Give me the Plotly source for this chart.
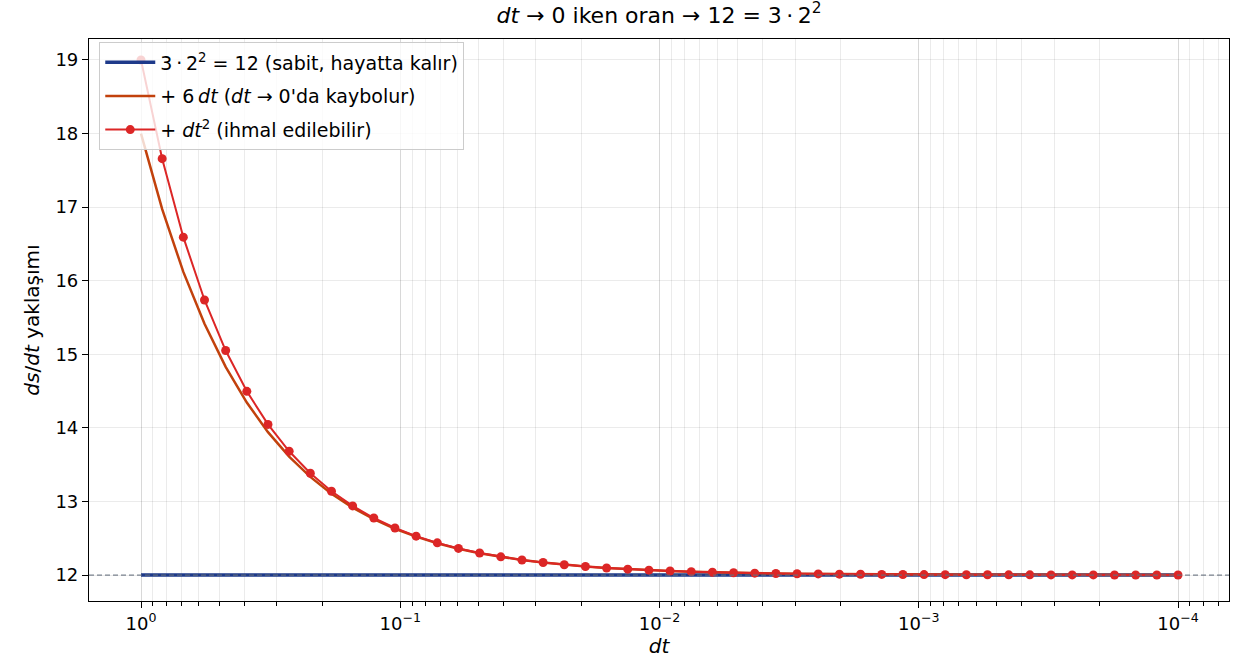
import plotly.graph_objects as go

# step sizes dt (log-spaced from 1 down to 1e-4)
dt = [1.0, 0.82864, 0.68665, 0.56899, 0.47149, 0.39069, 0.32374, 0.26826, 0.22229, 0.18420,
      0.15264, 0.12648, 0.10481, 0.086848, 0.071966, 0.059634, 0.049415, 0.040947, 0.033931, 0.028117,
      0.023299, 0.019306, 0.015998, 0.013257, 0.010985, 0.0091028, 0.0075430, 0.0062504, 0.0051794, 0.0042919,
      0.0035565, 0.0029471, 0.0024421, 0.0020236, 0.0016768, 0.0013895, 0.0011514, 0.00095410, 0.00079061, 0.00065514,
      0.00054288, 0.00044986, 0.00037278, 0.00030890, 0.00025597, 0.00021211, 0.00017576, 0.00014564, 0.00012069, 0.0001]

# constant part 3*2^2
const_part = [12.0] * len(dt)

# 12 + 6 dt
with_linear = [18.0, 16.9718, 16.1199, 15.4139, 14.8289, 14.3441, 13.9424, 13.6096, 13.3337, 13.1052,
               12.9158, 12.7589, 12.6289, 12.5211, 12.4318, 12.3578, 12.2965, 12.2457, 12.2036, 12.1687,
               12.1398, 12.1158, 12.0960, 12.0795, 12.0659, 12.0546, 12.0453, 12.0375, 12.0311, 12.0258,
               12.0213, 12.0177, 12.0147, 12.0121, 12.0101, 12.0083, 12.0069, 12.0057, 12.0047, 12.0039,
               12.0033, 12.0027, 12.0022, 12.0019, 12.0015, 12.0013, 12.0011, 12.0009, 12.0007, 12.0006]

# 12 + 6 dt + dt^2
with_square = [19.0, 17.6585, 16.5914, 15.7377, 15.0512, 14.4968, 14.0473, 13.6815, 13.3832, 13.1391,
               12.9391, 12.7749, 12.6398, 12.5286, 12.4370, 12.3614, 12.2989, 12.2474, 12.2047, 12.1695,
               12.1403, 12.1162, 12.0962, 12.0797, 12.0660, 12.0547, 12.0453, 12.0375, 12.0311, 12.0258,
               12.0213, 12.0177, 12.0147, 12.0121, 12.0101, 12.0083, 12.0069, 12.0057, 12.0047, 12.0039,
               12.0033, 12.0027, 12.0022, 12.0019, 12.0015, 12.0013, 12.0011, 12.0009, 12.0007, 12.0006]

x_tickvals = [1, 0.1, 0.01, 0.001, 0.0001]
x_ticktext = ["10<sup>0</sup>", "10<sup>\u22121</sup>", "10<sup>\u22122</sup>", "10<sup>\u22123</sup>", "10<sup>\u22124</sup>"]
y_tickvals = [12, 13, 14, 15, 16, 17, 18, 19]

FONT = "DejaVu Sans, Liberation Sans, sans-serif"
NAVY = "#1e3a8a"
ORANGE = "#c2410c"
RED = "#dc2626"
GRID = "rgba(0,0,0,0.08)"

fig = go.Figure()
fig.add_trace(go.Scatter(x=dt, y=const_part, mode="lines", legendgroup="a",
                         line=dict(color=NAVY, width=3.5),
                         name="3\u2009\u00b7\u20092<sup>2</sup> = 12 (sabit, hayatta kalır)"))
fig.add_trace(go.Scatter(x=dt, y=with_linear, mode="lines", legendgroup="b",
                         line=dict(color=ORANGE, width=2.5),
                         name="+ 6\u2009<i>dt</i> (<i>dt</i> \u2192 0'da kaybolur)"))
fig.add_trace(go.Scatter(x=dt, y=with_square, mode="lines+markers", legendgroup="c",
                         line=dict(color=RED, width=2),
                         marker=dict(color=RED, size=9),
                         name="+ <i>dt</i><sup>2</sup> (ihmal edilebilir)"))

# dashed reference line at the limit value
fig.add_shape(type="line", xref="paper", x0=0, x1=1, yref="y", y0=12, y1=12,
              line=dict(color="rgba(100,110,125,0.85)", width=1.3, dash="5px,3px"),
              layer="above")

fig.update_layout(
    width=1233, height=668,
    margin=dict(l=89, r=4, t=39, b=67),
    paper_bgcolor="white", plot_bgcolor="white",
    font=dict(family=FONT, size=18, color="black"),
    title=dict(text="<i>dt</i> \u2192 0 iken oran \u2192 12 = 3\u2009\u00b7\u20092<sup>2</sup>",
               x=(89 + (1233 - 4 - 89) / 2) / 1233, xanchor="center",
               y=1 - 15 / 668, yanchor="middle", font=dict(size=22)),
    legend=dict(x=0.009, y=0.994, xanchor="left", yanchor="top",
                bgcolor="rgba(255,255,255,0.8)", bordercolor="#cccccc", borderwidth=1,
                font=dict(size=19), tracegroupgap=6, itemwidth=50),
    showlegend=True,
)

fig.update_xaxes(
    type="log", range=[0.2006, -4.1967],
    tickvals=x_tickvals, ticktext=x_ticktext,
    ticks="outside", ticklen=6, tickcolor="black", tickwidth=1,
    showline=True, linecolor="black", linewidth=1.2, mirror=True,
    showgrid=True, gridcolor=GRID, gridwidth=1,
    minor=dict(dtick="D1", showgrid=True, gridcolor=GRID, gridwidth=1,
               ticks="outside", ticklen=3.5, tickcolor="black"),
    zeroline=False, tickfont=dict(size=18),
    title=dict(text="<i>dt</i>", font=dict(size=20), standoff=6),
)
fig.update_yaxes(
    range=[11.647, 19.285],
    tickvals=y_tickvals,
    ticks="outside", ticklen=6, tickcolor="black", tickwidth=1,
    showline=True, linecolor="black", linewidth=1.2, mirror=True,
    showgrid=True, gridcolor=GRID, gridwidth=1,
    zeroline=False, tickfont=dict(size=18),
    title=dict(text="<i>ds</i>/<i>dt</i> yaklaşımı", font=dict(size=20), standoff=10),
)

fig.write_html("out.html")
